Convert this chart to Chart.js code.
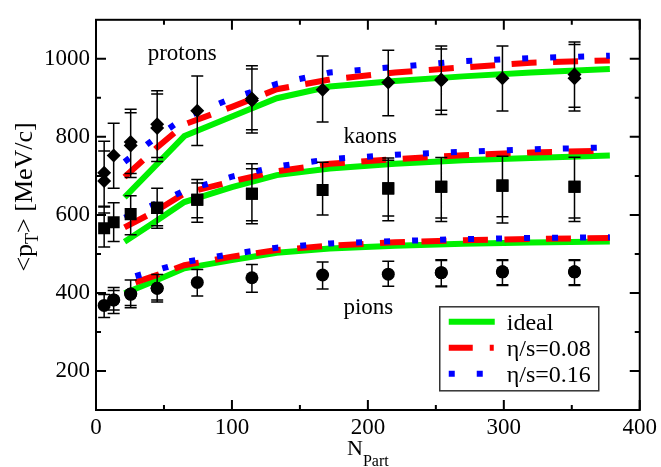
<!DOCTYPE html>
<html>
<head>
<meta charset="utf-8">
<script src="https://cdn.jsdelivr.net/npm/chart.js@4.4.0/dist/chart.umd.min.js"></script>
<style>
  html, body { margin: 0; padding: 0; background: #fff; }
  #wrap { width: 661px; height: 467px; }
</style>
</head>
<body>
<div id="wrap"><canvas id="ptChart" width="661" height="467"></canvas></div>
<script>
// hydro curves share one N_part grid (viscous pion curves start a bit later)
const npartModel = [21, 44, 65, 100, 133, 172, 220, 270, 320, 378];
const npartPionVisc = [29, 44, 65, 100, 133, 172, 220, 270, 320, 378];

const protonIdeal = [645, 727, 802, 852, 899, 929, 943, 955, 965, 974];
const protonEta08 = [697, 770, 832, 877, 922, 947, 965, 978, 990, 996];
const protonEta16 = [736, 798, 849, 899, 936, 965, 979, 994, 1002, 1008];

const kaonIdeal = [531, 584, 633, 671, 702, 719, 731, 740, 746, 752];
const kaonEta08 = [568, 610, 655, 686, 712, 731, 743, 753, 760, 765];
const kaonEta16 = [593, 629, 662, 698, 724, 743, 754, 762, 768, 773];

const pionIdeal = [399, 432, 463, 484, 503, 514, 521, 526, 529, 532];
const pionEta08 = [427, 445, 471, 493, 510, 521, 530, 535, 538, 541];
const pionEta16 = [443, 458, 479, 500, 516, 527, 533, 538, 541, 543];

// measured <pT> with error bar ends
const protonN  = [6, 6, 13, 25.5, 25.5, 45, 45, 74.5, 114.7, 114.7, 166.7, 215, 254, 254, 299, 352, 352];
const protonPt = [708, 687, 752, 787, 778, 832, 823, 867, 898, 893, 921, 939, 947, 945, 950, 960, 950];
const protonHi = [789, 764, 835, 871, 862, 918, 910, 956, 982, 974, 1007, 1022, 1033, 1025, 1033, 1043, 1037];
const protonLo = [620, 605, 668, 706, 696, 747, 737, 778, 818, 810, 838, 854, 868, 857, 866, 876, 866];

const kaonN  = [6, 13, 25.5, 45, 45, 74.5, 74.5, 114.7, 114.7, 166.7, 215, 215, 254, 254, 299, 299, 352, 352];
const kaonPt = [566, 581, 602, 618, 618, 639, 639, 654, 654, 664, 668, 668, 672, 672, 675, 675, 672, 672];
const kaonHi = [622, 631, 649, 668, 668, 691, 682, 731, 718, 735, 746, 740, 747, 747, 750, 750, 748, 748];
const kaonLo = [518, 532, 549, 572, 566, 593, 581, 585, 577, 600, 597, 585, 592, 583, 595, 579, 592, 583];

const pionN  = [6, 13, 13, 25.5, 25.5, 45, 45, 74.5, 114.7, 166.7, 215, 254, 254, 299, 299, 352, 352];
const pionPt = [368, 382, 382, 397, 397, 412, 412, 427, 439, 446, 448, 452, 452, 454, 454, 454, 454];
const pionHi = [396, 414, 406, 433, 433, 447, 447, 460, 473, 479, 481, 485, 483, 485, 483, 485, 483];
const pionLo = [337, 356, 347, 368, 362, 382, 377, 392, 402, 410, 417, 418, 416, 421, 419, 421, 419];

const speciesLabels = ['protons', 'kaons', 'pions'];
const speciesLabelN = [38, 182, 182];
const speciesLabelPt = [997, 785, 345];

const xTicks = [0, 100, 200, 300, 400];
const xMinor = [50, 150, 250, 350];
const yTicks = [200, 400, 600, 800, 1000];
const yMinor = [300, 500, 700, 900];

const serif = "'Liberation Serif', 'Times New Roman', serif";
const GREEN = '#00f000', RED = '#ff0000', BLUE = '#0000ff';

const pts = (xs, ys) => xs.map((x, i) => ({ x: x, y: ys[i] }));

function curve(label, xs, ys, color, dash, legend) {
  return {
    type: 'line', label: label, data: pts(xs, ys),
    borderColor: color, backgroundColor: color, borderWidth: 6,
    borderDash: dash, borderCapStyle: 'butt', pointRadius: 0,
    tension: 0, showLine: true, legendEntry: legend
  };
}

function measured(label, xs, ys, lo, hi, style, r) {
  return {
    type: 'scatter', label: label, data: pts(xs, ys),
    pointStyle: style, pointRadius: r, borderWidth: 0,
    backgroundColor: '#000', borderColor: '#000',
    errLo: lo, errHi: hi
  };
}

const datasets = [
  measured('protons', protonN, protonPt, protonLo, protonHi, 'rectRot', 7),
  measured('kaons', kaonN, kaonPt, kaonLo, kaonHi, 'rect', 8.5),
  measured('pions', pionN, pionPt, pionLo, pionHi, 'circle', 6.5),
  curve('η/s=0.16', npartModel, protonEta16, BLUE, [6, 22], false),
  curve('η/s=0.16', npartModel, kaonEta16, BLUE, [6, 22], false),
  curve('η/s=0.16', npartPionVisc, pionEta16, BLUE, [6, 22], 2),
  curve('η/s=0.08', npartModel, protonEta08, RED, [25, 16.5], false),
  curve('η/s=0.08', npartModel, kaonEta08, RED, [25, 16.5], false),
  curve('η/s=0.08', npartPionVisc, pionEta08, RED, [25, 16.5], 1),
  curve('ideal', npartModel, protonIdeal, GREEN, [], false),
  curve('ideal', npartModel, kaonIdeal, GREEN, [], false),
  curve('ideal', npartModel, pionIdeal, GREEN, [], 0)
];

// vertical error bars with caps, drawn on top of the markers
const errorBars = {
  id: 'errorBars',
  afterDatasetsDraw(chart) {
    const { ctx, chartArea: a, scales: { x, y } } = chart;
    ctx.save();
    ctx.beginPath();
    ctx.rect(a.left, a.top, a.right - a.left, a.bottom - a.top);
    ctx.clip();
    ctx.beginPath();
    chart.data.datasets.forEach(ds => {
      if (!ds.errLo) return;
      ds.data.forEach((p, i) => {
        const px = x.getPixelForValue(p.x);
        const top = y.getPixelForValue(ds.errHi[i]);
        const bot = y.getPixelForValue(ds.errLo[i]);
        ctx.moveTo(px, top); ctx.lineTo(px, bot);
        ctx.moveTo(px - 6, top); ctx.lineTo(px + 6, top);
        ctx.moveTo(px - 6, bot); ctx.lineTo(px + 6, bot);
      });
    });
    ctx.strokeStyle = '#000';
    ctx.lineWidth = 1.5;
    ctx.stroke();
    ctx.restore();
  }
};

// closed frame with inward major/minor ticks on all four sides
const frame = {
  id: 'frame',
  afterDraw(chart) {
    const { ctx, chartArea: a, scales: { x, y } } = chart;
    ctx.save();
    ctx.strokeStyle = '#000';
    ctx.lineWidth = 2;
    ctx.strokeRect(a.left, a.top, a.right - a.left, a.bottom - a.top);
    ctx.beginPath();
    const tx = (v, len) => {
      const px = x.getPixelForValue(v);
      ctx.moveTo(px, a.bottom); ctx.lineTo(px, a.bottom - len);
      ctx.moveTo(px, a.top); ctx.lineTo(px, a.top + len);
    };
    const ty = (v, len) => {
      const py = y.getPixelForValue(v);
      ctx.moveTo(a.left, py); ctx.lineTo(a.left + len, py);
      ctx.moveTo(a.right, py); ctx.lineTo(a.right - len, py);
    };
    xTicks.forEach(v => tx(v, 10));
    xMinor.forEach(v => tx(v, 5));
    yTicks.forEach(v => ty(v, 10));
    yMinor.forEach(v => ty(v, 5));
    ctx.stroke();
    ctx.restore();
  }
};

// species names, axis titles with subscripts, and the boxed legend
const annotations = {
  id: 'annotations',
  afterDraw(chart) {
    const { ctx, chartArea: a, scales: { x, y } } = chart;
    ctx.save();
    ctx.fillStyle = '#000';
    ctx.textBaseline = 'alphabetic';
    ctx.textAlign = 'left';
    ctx.font = '23px ' + serif;
    speciesLabels.forEach((s, i) => {
      ctx.fillText(s, x.getPixelForValue(speciesLabelN[i]), y.getPixelForValue(speciesLabelPt[i]));
    });

    // x title: N_Part
    const big = '22px ' + serif, small = '16px ' + serif;
    ctx.font = big; const wN = ctx.measureText('N').width;
    ctx.font = small; const wP = ctx.measureText('Part').width;
    const cx = (a.left + a.right) / 2;
    let sx = cx - (wN + wP) / 2;
    ctx.font = big; ctx.fillText('N', sx, 455);
    ctx.font = small; ctx.fillText('Part', sx + wN, 466);

    // y title: <p_T> [MeV/c], rotated
    const yBig = '26px ' + serif, ySmall = '18px ' + serif;
    ctx.font = yBig;
    const w1 = ctx.measureText('<p').width;
    const w3 = ctx.measureText('> [MeV/c]').width;
    ctx.font = ySmall;
    const w2 = ctx.measureText('T').width;
    ctx.translate(32, (a.top + a.bottom) / 2 - 18);
    ctx.rotate(-Math.PI / 2);
    let tx = -(w1 + w2 + w3) / 2;
    ctx.font = yBig; ctx.fillText('<p', tx, 0);
    ctx.font = ySmall; ctx.fillText('T', tx + w1, 6);
    ctx.font = yBig; ctx.fillText('> [MeV/c]', tx + w1 + w2, 0);
    ctx.restore();

    // legend
    const left = a.right - 200, top = a.top + 287, w = 159, h = 84;
    ctx.save();
    ctx.fillStyle = '#fff';
    ctx.fillRect(left, top, w, h);
    ctx.strokeStyle = '#333';
    ctx.lineWidth = 1.5;
    ctx.strokeRect(left, top, w, h);
    const entries = chart.data.datasets.filter(d => d.legendEntry !== false && d.legendEntry !== undefined)
      .sort((p, q) => p.legendEntry - q.legendEntry);
    entries.forEach((ds, i) => {
      const ly = top + 15 + i * 26;
      ctx.beginPath();
      ctx.strokeStyle = ds.borderColor;
      ctx.lineWidth = 6;
      ctx.lineCap = 'butt';
      ctx.setLineDash(ds.borderColor === RED ? [24, 17, 4, 30] : ds.borderDash);
      ctx.moveTo(left + 9, ly);
      ctx.lineTo(left + 55, ly);
      ctx.stroke();
      ctx.setLineDash([]);
      ctx.fillStyle = '#000';
      ctx.font = '24px ' + serif;
      ctx.fillText(ds.label, left + 67, ly + 8);
    });
    ctx.restore();
  }
};

new Chart(document.getElementById('ptChart'), {
  type: 'scatter',
  data: { datasets: datasets },
  options: {
    responsive: false,
    animation: false,
    layout: { padding: { top: 8, right: 21, left: 0, bottom: 0 } },
    plugins: { legend: { display: false }, tooltip: { enabled: false } },
    scales: {
      x: {
        type: 'linear', min: 0, max: 400,
        afterBuildTicks: s => { s.ticks = xTicks.map(v => ({ value: v })); },
        afterFit: s => { s.height = 57; },
        grid: { display: false, drawTicks: false },
        border: { display: false },
        ticks: { color: '#000', padding: 4, maxRotation: 0, font: { family: serif, size: 23 }, callback: v => String(v) }
      },
      y: {
        type: 'linear', min: 100, max: 1100,
        afterBuildTicks: s => { s.ticks = yTicks.map(v => ({ value: v })); },
        afterFit: s => { s.width = 96; },
        grid: { display: false, drawTicks: false },
        border: { display: false },
        ticks: { color: '#000', padding: 6, font: { family: serif, size: 23 }, callback: v => String(v) }
      }
    }
  },
  plugins: [errorBars, frame, annotations]
});
</script>
</body>
</html>
